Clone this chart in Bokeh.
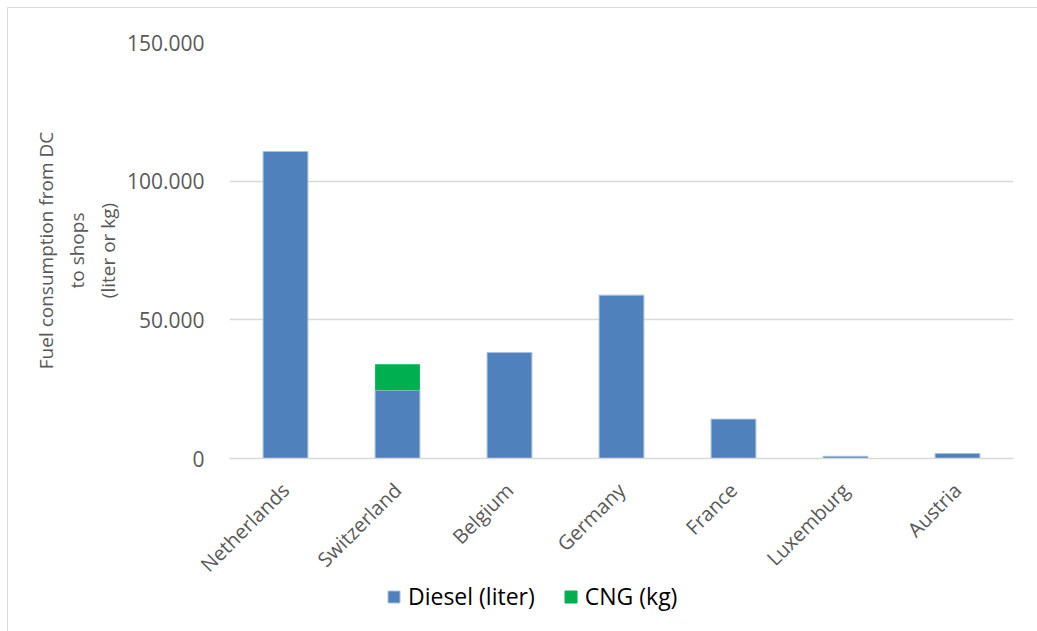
from bokeh.plotting import figure
from bokeh.layouts import column
from bokeh.models import (FixedTicker, CustomJSTickFormatter, Legend, LegendItem)
from bokeh.embed import file_html
from bokeh.resources import INLINE
import math

# Fuel consumption per country, distribution centre to shops
countries = ["Netherlands", "Switzerland", "Belgium", "Germany", "France", "Luxemburg", "Austria"]
diesel_liter = [110700, 24600, 38200, 58900, 14200, 800, 1800]
cng_kg = [0, 9400, 0, 0, 0, 0, 0]
series = ["diesel", "cng"]
series_labels = ["Diesel (liter)", "CNG (kg)"]
y_ticks = [0, 50000, 100000, 150000]

BLUE = "#4f81bd"
GREEN = "#00b050"
BLUE_EDGE = "#a9c0e0"
GRAY_TXT = "#595959"
GRID = "#d9d9d9"
FONT = "Open Sans"

p = figure(
    x_range=countries, y_range=(0, 150000),
    width=1030, height=600,
    output_backend="svg", toolbar_location=None,
    min_border_left=221, min_border_right=25,
    min_border_top=34, min_border_bottom=150,
)
p.outline_line_color = None

data = {"country": countries, "diesel": diesel_liter, "cng": cng_kg}
renderers = p.vbar_stack(
    series, x="country", width=0.4, source=data,
    fill_color=[BLUE, GREEN], line_color=[BLUE_EDGE, None], line_width=1,
)

# Axes
p.yaxis.ticker = FixedTicker(ticks=y_ticks)
p.yaxis.formatter = CustomJSTickFormatter(
    code='return tick.toFixed(0).replace(/\\B(?=(\\d{3})+(?!\\d))/g, ".");')
p.yaxis.axis_line_color = None
p.yaxis.major_tick_line_color = None
p.yaxis.minor_tick_line_color = None
p.yaxis.major_label_standoff = 19
p.yaxis.major_label_text_font = FONT
p.yaxis.major_label_text_font_size = "21px"
p.yaxis.major_label_text_color = GRAY_TXT
p.yaxis.axis_label = "Fuel consumption from DC\nto shops\n(liter or kg)"
p.yaxis.axis_label_text_font = FONT
p.yaxis.axis_label_text_font_size = "19px"
p.yaxis.axis_label_text_font_style = "normal"
p.yaxis.axis_label_text_color = GRAY_TXT
p.yaxis.axis_label_standoff = 3

p.xaxis.axis_line_color = GRID
p.xaxis.axis_line_width = 1.5
p.xaxis.major_tick_line_color = None
p.xaxis.minor_tick_line_color = None
p.xaxis.major_label_orientation = math.pi / 4
p.xaxis.major_label_standoff = 22
p.xaxis.major_label_text_font = FONT
p.xaxis.major_label_text_font_size = "20px"
p.xaxis.major_label_text_color = GRAY_TXT

p.xgrid.grid_line_color = None
p.ygrid.grid_line_color = GRID
p.ygrid.grid_line_width = 1.5

# Legend strip below the chart; its swatch renderers are hidden so only
# the legend entries show.
leg = figure(
    width=1030, height=64, x_range=countries, y_range=(0, 150000),
    output_backend="svg", toolbar_location=None,
    x_axis_location=None, y_axis_location=None,
    min_border=0,
)
leg.grid.grid_line_color = None
leg.outline_line_color = None
leg.background_fill_alpha = 0
leg.border_fill_alpha = 0
swatches = leg.vbar_stack(
    series, x="country", width=0.4, source=data,
    fill_color=[BLUE, GREEN], line_color=[BLUE_EDGE, GREEN], line_width=1,
)
for r in swatches:
    r.visible = False
legend = Legend(
    items=[LegendItem(label=lbl, renderers=[r]) for lbl, r in zip(series_labels, swatches)],
    orientation="horizontal",
    location=(157, 20),
    label_text_font=FONT, label_text_font_size="23px", label_text_color="#000000",
    glyph_width=15, glyph_height=15, label_standoff=7, spacing=28,
    border_line_color=None, background_fill_alpha=0,
    inactive_fill_alpha=0,
    padding=0, margin=0,
)
leg.add_layout(legend, "center")
leg.margin = (-40, 0, 0, 0)

layout = column(p, leg, spacing=0)
layout.margin = (7, 0, 0, 7)
layout.styles = {"border-left": "1px solid #d9d9d9", "border-top": "1px solid #d9d9d9"}

open("out.html", "w").write(file_html(layout, INLINE))
